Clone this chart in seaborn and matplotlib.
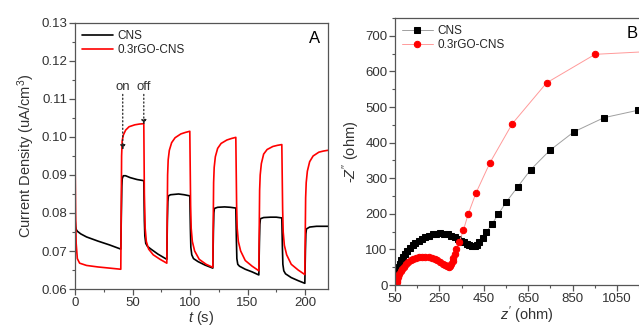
import matplotlib
matplotlib.use('Agg')
import matplotlib.pyplot as plt
from matplotlib.ticker import MultipleLocator
import seaborn as sns
import pandas as pd

sns.set_theme(style='ticks')
plt.rcParams['font.family'] = ['Liberation Sans', 'DejaVu Sans']
plt.rcParams['mathtext.fontset'] = 'custom'
plt.rcParams['mathtext.it'] = 'Liberation Sans:italic'
plt.rcParams['mathtext.rm'] = 'Liberation Sans'

# ---- panel A: photocurrent response (light on/off every 20 s) ----
cns_t = [0, 0.5, 1, 2, 5, 10, 20, 30, 39.8,
         40.3, 40.7, 41, 42, 44, 48, 54, 59.8,
         60.3, 60.7, 61.5, 63, 66, 72, 79.8,
         80.3, 80.7, 81.2, 83, 90, 95, 99.8,
         100.3, 100.7, 101.5, 103, 107, 113, 119.8,
         120.3, 120.7, 121.2, 124, 130, 135, 139.8,
         140.3, 140.7, 141.5, 143, 148, 154, 159.8,
         160.3, 160.7, 161.2, 164, 170, 175, 179.8,
         180.3, 180.7, 181.5, 183, 188, 194, 199.8,
         200.3, 200.7, 201.2, 204, 210, 215, 220]
cns_j = [0.0785, 0.0765, 0.0757, 0.0752, 0.0745, 0.0737, 0.0726, 0.0716, 0.0705,
         0.0800, 0.0870, 0.0890, 0.0898, 0.0898, 0.0893, 0.0888, 0.0885,
         0.0780, 0.0740, 0.0720, 0.0712, 0.0705, 0.0692, 0.0678,
         0.0780, 0.0830, 0.0845, 0.0848, 0.0850, 0.0848, 0.0845,
         0.0760, 0.0710, 0.0690, 0.0680, 0.0672, 0.0663, 0.0655,
         0.0750, 0.0800, 0.0812, 0.0815, 0.0816, 0.0815, 0.0813,
         0.0730, 0.0680, 0.0665, 0.0660, 0.0652, 0.0645, 0.0637,
         0.0720, 0.0770, 0.0785, 0.0788, 0.0789, 0.0789, 0.0787,
         0.0710, 0.0665, 0.0648, 0.0640, 0.0630, 0.0622, 0.0615,
         0.0700, 0.0745, 0.0758, 0.0763, 0.0765, 0.0765, 0.0765]

rgo_t = [0, 0.5, 1, 2, 4, 10, 20, 30, 39.8,
         40.5, 41, 42, 44, 47, 52, 56, 59.8,
         60.3, 61, 62, 64, 68, 74, 79.8,
         80.5, 81, 82, 84, 87, 92, 96, 99.8,
         100.5, 101, 102, 104, 108, 114, 119.8,
         120.5, 121, 122, 124, 127, 132, 136, 139.8,
         140.5, 141, 142, 144, 148, 154, 159.8,
         160.5, 161, 162, 164, 167, 172, 176, 179.8,
         180.5, 181, 182, 184, 188, 194, 199.8,
         200.5, 201, 202, 204, 207, 212, 216, 220]
rgo_j = [0.0960, 0.0800, 0.0720, 0.0680, 0.0668, 0.0662, 0.0658, 0.0655, 0.0652,
         0.0950, 0.0990, 0.1005, 0.1018, 0.1027, 0.1032, 0.1034, 0.1035,
         0.0850, 0.0760, 0.0725, 0.0705, 0.0690, 0.0678, 0.0668,
         0.0900, 0.0940, 0.0965, 0.0985, 0.0998, 0.1008, 0.1012, 0.1015,
         0.0820, 0.0760, 0.0725, 0.0700, 0.0678, 0.0665, 0.0657,
         0.0880, 0.0920, 0.0948, 0.0970, 0.0983, 0.0992, 0.0996, 0.0999,
         0.0820, 0.0760, 0.0725, 0.0700, 0.0675, 0.0660, 0.0648,
         0.0860, 0.0900, 0.0930, 0.0955, 0.0967, 0.0975, 0.0978, 0.0980,
         0.0810, 0.0750, 0.0715, 0.0690, 0.0665, 0.0650, 0.0638,
         0.0840, 0.0880, 0.0910, 0.0935, 0.0950, 0.0960, 0.0963, 0.0965]

light_on, light_off = 41.5, 59.8
arrow_top = 0.1112
arrow_tip_on, arrow_tip_off = 0.0966, 0.1032

# ---- panel B: Nyquist plot ----
cns_zr = [52, 54, 57, 61, 66, 72, 79, 87, 96, 106, 117, 129, 142, 156, 171, 187,
          203, 219, 236, 253, 270, 287, 303, 318, 333, 347, 360, 372, 384, 396,
          408, 419, 430, 445, 462, 487, 515, 552, 602, 661, 747, 855, 991, 1145, 1300]
cns_zi = [10, 20, 30, 40, 50, 60, 70, 79, 88, 96, 104, 111, 118, 124, 130, 135,
          139, 142, 144, 145, 144, 142, 139, 135, 130, 125, 120, 116, 112, 110,
          110, 113, 120, 132, 150, 171, 199, 234, 275, 324, 378, 430, 470, 491, 505]
rgo_zr = [55, 57, 60, 64, 69, 75, 82, 90, 99, 109, 120, 132, 145, 159, 173, 187,
          201, 215, 228, 241, 253, 264, 274, 283, 291, 298, 304, 309, 313, 318,
          325, 340, 358, 380, 415, 478, 578, 733, 951, 1200]
rgo_zi = [2, 8, 15, 22, 30, 38, 45, 52, 58, 64, 69, 73, 76, 78, 79, 79,
          78, 76, 73, 69, 65, 60, 56, 53, 52, 54, 60, 68, 77, 88,
          100, 121, 154, 200, 259, 344, 453, 568, 648, 656]

df_a = pd.concat([
    pd.DataFrame({'t': cns_t, 'j': cns_j, 'sample': 'CNS'}),
    pd.DataFrame({'t': rgo_t, 'j': rgo_j, 'sample': '0.3rGO-CNS'}),
])

text_color = '#333333'
spine_color = '#555555'

fig = plt.figure(figsize=(6.39, 3.33), dpi=100)
ax_a = fig.add_axes([0.1174, 0.1321, 0.396, 0.799])
# panel B runs past the right edge of the picture, as in the cropped original
ax_b = fig.add_axes([0.6182, 0.1441, 0.4134, 0.8018])

sns.lineplot(data=df_a, x='t', y='j', hue='sample', palette=['black', 'red'],
             sort=False, estimator=None, linewidth=1.2, ax=ax_a)
ax_a.set_xlim(0, 220)
ax_a.set_ylim(0.06, 0.13)
ax_a.xaxis.set_major_locator(MultipleLocator(50))
ax_a.xaxis.set_minor_locator(MultipleLocator(25))
ax_a.yaxis.set_major_locator(MultipleLocator(0.01))
ax_a.yaxis.set_minor_locator(MultipleLocator(0.005))
ax_a.yaxis.set_major_formatter(plt.FormatStrFormatter('%.2f'))
ax_a.set_xlabel(r'$t$ (s)', fontsize=10.5, color=text_color, labelpad=0)
ax_a.set_ylabel(r'Current Density (uA/cm$^3$)', fontsize=10.5, color=text_color, labelpad=3)
ax_a.legend(loc='upper left', frameon=False, fontsize=8.5, handlelength=2.6,
            borderaxespad=0.2, labelspacing=0.2, handletextpad=0.4)
ax_a.text(0.97, 0.94, 'A', transform=ax_a.transAxes, ha='right', va='center',
          fontsize=12, color='black')

# on / off markers
for tx, tip, lab in [(light_on, arrow_tip_on, 'on'), (light_off, arrow_tip_off, 'off')]:
    ax_a.annotate('', xy=(tx, tip), xytext=(tx, arrow_top),
                  arrowprops=dict(arrowstyle='-|>', linestyle=(0, (1, 2)), color='#222222',
                                  lw=0.9, mutation_scale=7, shrinkA=0, shrinkB=0))
    ax_a.text(tx, arrow_top + 0.0005, lab, ha='center', va='bottom', fontsize=9.5,
              color=text_color)

sns.lineplot(x=cns_zr, y=cns_zi, sort=False, estimator=None, color='#a0a0a0', lw=0.7,
             marker='s', markersize=4.2, markerfacecolor='black', markeredgecolor='black',
             label='CNS', ax=ax_b)
sns.lineplot(x=rgo_zr, y=rgo_zi, sort=False, estimator=None, color='#ff9a9a', lw=0.7,
             marker='o', markersize=4.6, markerfacecolor='red', markeredgecolor='red',
             label='0.3rGO-CNS', ax=ax_b)
ax_b.set_xlim(50, 1240)
ax_b.set_ylim(0, 750)
ax_b.xaxis.set_major_locator(MultipleLocator(200, offset=50))
ax_b.xaxis.set_minor_locator(MultipleLocator(100, offset=50))
ax_b.yaxis.set_major_locator(MultipleLocator(100))
ax_b.yaxis.set_minor_locator(MultipleLocator(50))
ax_b.set_xlabel(r"$z'$ (ohm)", fontsize=10.5, color=text_color, labelpad=0)
ax_b.set_ylabel(r"-$Z''$ (ohm)", fontsize=10.5, color=text_color, labelpad=2)
ax_b.legend(loc='upper left', frameon=False, fontsize=8.5, handlelength=2.6,
            borderaxespad=0.2, labelspacing=0.2, handletextpad=0.4)
fig.text(0.998, 0.90, 'B', ha='right', va='center', fontsize=12, color='black')

for ax in (ax_a, ax_b):
    for s in ax.spines.values():
        s.set_color(spine_color)
        s.set_linewidth(0.9)
    ax.tick_params(which='major', direction='out', length=4, width=0.9, colors=spine_color,
                   labelcolor=text_color, labelsize=9.5, pad=1.5)
    ax.tick_params(which='minor', direction='out', length=2.2, width=0.8, colors=spine_color)

fig.savefig('out.png', dpi=100)
